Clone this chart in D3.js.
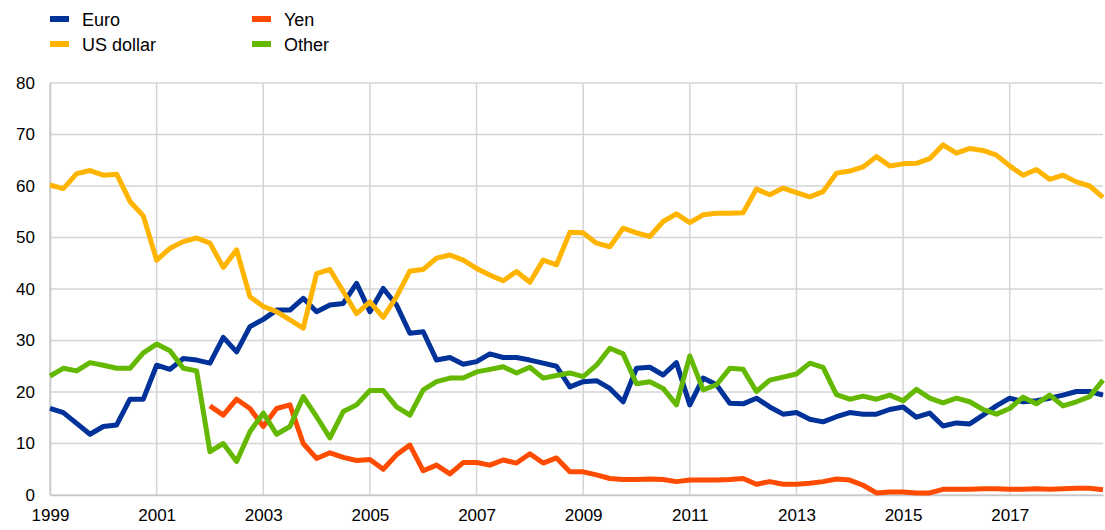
<!DOCTYPE html>
<html>
<head>
<meta charset="utf-8">
<script src="https://cdn.jsdelivr.net/npm/d3@7"></script>
<style>
  body { margin: 0; background: #fff; }
  text { font-family: "Liberation Sans", Arial, sans-serif; fill: #000; }
</style>
</head>
<body>
<script>
// quarterly observations, 1999Q1 .. 2018Q4
const startYear = 1999;
const quarters = d3.range(80).map(i => startYear + i / 4);

const euro = [16.8, 16.0, 13.9, 11.8, 13.3, 13.6, 18.6, 18.6, 25.2, 24.4, 26.5, 26.2, 25.6, 30.6, 27.8, 32.7,
  34.1, 35.9, 35.9, 38.2, 35.6, 36.9, 37.2, 41.1, 35.6, 40.1, 36.9, 31.4, 31.7, 26.2, 26.7, 25.4,
  25.9, 27.4, 26.7, 26.7, 26.2, 25.6, 25.0, 21.0, 22.0, 22.2, 20.7, 18.1, 24.6, 24.8, 23.3, 25.7,
  17.5, 22.7, 21.4, 17.8, 17.7, 18.8, 17.1, 15.7, 16.0, 14.7, 14.2, 15.2, 16.0, 15.7, 15.7, 16.6,
  17.1, 15.1, 15.9, 13.4, 14.0, 13.8, 15.5, 17.3, 18.8, 18.1, 18.3, 18.8, 19.4, 20.1, 20.1, 19.4];

const usDollar = [60.2, 59.5, 62.4, 63.0, 62.1, 62.3, 57.0, 54.2, 45.6, 47.9, 49.2, 49.9, 48.9, 44.2, 47.6, 38.5,
  36.6, 35.6, 34.0, 32.4, 43.0, 43.8, 39.5, 35.2, 37.5, 34.5, 38.5, 43.5, 43.8, 46.0, 46.6, 45.6,
  44.0, 42.7, 41.6, 43.4, 41.3, 45.6, 44.7, 51.0, 50.9, 48.9, 48.2, 51.8, 50.9, 50.2, 53.1, 54.6,
  52.9, 54.4, 54.7, 54.7, 54.8, 59.4, 58.3, 59.6, 58.7, 57.9, 58.9, 62.5, 62.9, 63.7, 65.7, 63.9,
  64.3, 64.4, 65.3, 68.0, 66.4, 67.3, 66.9, 66.0, 63.9, 62.1, 63.2, 61.3, 62.1, 60.8, 60.0, 57.8];

const yen = [null, null, null, null, null, null, null, null, null, null, null, null, 17.3, 15.5, 18.6, 16.8,
  13.3, 16.8, 17.5, 10.0, 7.1, 8.2, 7.3, 6.7, 6.9, 5.0, 7.8, 9.7, 4.7, 5.8, 4.1, 6.3,
  6.3, 5.8, 6.8, 6.2, 8.0, 6.2, 7.2, 4.5, 4.5, 3.9, 3.2, 3.0, 3.0, 3.1, 3.0, 2.6,
  2.9, 2.9, 2.9, 3.0, 3.2, 2.1, 2.6, 2.1, 2.1, 2.3, 2.6, 3.1, 2.9, 1.9, 0.4, 0.6,
  0.6, 0.4, 0.4, 1.1, 1.1, 1.1, 1.2, 1.2, 1.1, 1.1, 1.2, 1.1, 1.2, 1.3, 1.3, 1.0];

const other = [23.1, 24.6, 24.1, 25.7, 25.2, 24.6, 24.6, 27.6, 29.3, 28.0, 24.6, 24.1, 8.4, 10.0, 6.5, 12.3,
  15.9, 11.8, 13.3, 19.1, 15.2, 11.1, 16.2, 17.5, 20.3, 20.3, 17.1, 15.5, 20.4, 22.0, 22.7, 22.7,
  23.9, 24.4, 24.9, 23.7, 24.8, 22.7, 23.2, 23.7, 23.0, 25.2, 28.5, 27.4, 21.6, 22.0, 20.7, 17.5,
  27.0, 20.4, 21.4, 24.6, 24.4, 20.1, 22.3, 22.9, 23.5, 25.6, 24.8, 19.5, 18.6, 19.2, 18.6, 19.4,
  18.3, 20.5, 18.8, 17.9, 18.8, 18.1, 16.6, 15.7, 16.8, 19.0, 17.7, 19.4, 17.3, 18.1, 19.1, 22.3];

const yTicks = [0, 10, 20, 30, 40, 50, 60, 70, 80];
const xTicks = [1999, 2001, 2003, 2005, 2007, 2009, 2011, 2013, 2015, 2017];

const series = [
  { name: "Euro", values: euro, color: "#003299" },
  { name: "US dollar", values: usDollar, color: "#FFB400" },
  { name: "Yen", values: yen, color: "#FF4B00" },
  { name: "Other", values: other, color: "#65B800" }
];

const W = 1105, H = 530;
const margin = { left: 50, right: 2, top: 83, bottom: 35 };

const svg = d3.select("body").append("svg")
  .attr("width", W)
  .attr("height", H);

const x = d3.scaleLinear()
  .domain([1999, 2018.75])
  .range([margin.left, W - margin.right]);

const y = d3.scaleLinear()
  .domain([0, 80])
  .range([H - margin.bottom, margin.top]);

// grid
svg.append("g")
  .selectAll("line")
  .data(yTicks)
  .enter()
  .append("line")
  .attr("x1", margin.left)
  .attr("x2", W - margin.right)
  .attr("y1", d => y(d))
  .attr("y2", d => y(d))
  .attr("stroke", "#d4d4d4")
  .attr("stroke-width", 1.5);

svg.append("g")
  .selectAll("line")
  .data(xTicks)
  .enter()
  .append("line")
  .attr("x1", d => x(d))
  .attr("x2", d => x(d))
  .attr("y1", y(80))
  .attr("y2", y(0))
  .attr("stroke", "#d4d4d4")
  .attr("stroke-width", 1.5);

// axes
const yAxis = svg.append("g")
  .attr("transform", `translate(${margin.left},0)`)
  .call(d3.axisLeft(y).tickValues(yTicks).tickSize(0).tickPadding(15));
yAxis.select(".domain").attr("stroke", "#c8c8c8").attr("stroke-width", 1.5);
yAxis.selectAll("text").style("font-size", "17px").style("font-family", "Liberation Sans, Arial, sans-serif");

const xAxis = svg.append("g")
  .attr("transform", `translate(0,${y(0)})`)
  .call(d3.axisBottom(x).tickValues(xTicks).tickFormat(d3.format("d")).tickSize(0).tickPadding(14));
xAxis.select(".domain").attr("stroke", "#c8c8c8").attr("stroke-width", 1.5);
xAxis.selectAll("text").style("font-size", "17px").style("font-family", "Liberation Sans, Arial, sans-serif");

// lines
const line = d3.line()
  .defined(d => d[1] != null)
  .x(d => x(d[0]))
  .y(d => y(d[1]));

svg.append("g")
  .selectAll("path")
  .data(series)
  .enter()
  .append("path")
  .attr("d", s => line(quarters.map((q, i) => [q, s.values[i]])))
  .attr("fill", "none")
  .attr("stroke", s => s.color)
  .attr("stroke-width", 5)
  .attr("stroke-linejoin", "round");

// legend
const legendPos = [[50, 19], [50, 44], [252, 19], [252, 44]];
const legend = svg.append("g")
  .selectAll("g")
  .data(series)
  .enter()
  .append("g")
  .attr("transform", (s, i) => `translate(${legendPos[i][0]},${legendPos[i][1]})`);

legend.append("rect")
  .attr("x", 0)
  .attr("y", -3)
  .attr("width", 19)
  .attr("height", 6)
  .attr("fill", s => s.color);

legend.append("text")
  .attr("x", 32)
  .attr("y", 6.5)
  .style("font-size", "18px")
  .text(s => s.name);
</script>
</body>
</html>
